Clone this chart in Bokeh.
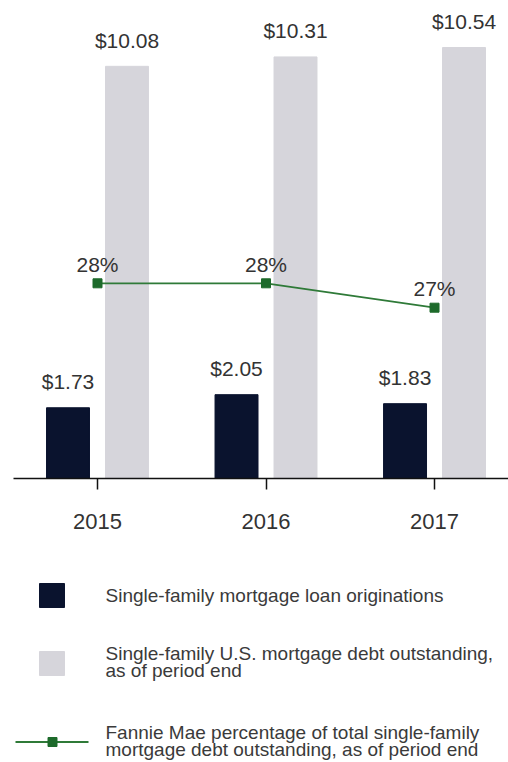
import numpy as np
from bokeh.plotting import figure
from bokeh.models import Range1d, FixedTicker, ColumnDataSource
from bokeh.layouts import column
from bokeh.embed import file_html
from bokeh.resources import INLINE
from bokeh.core.properties import value

# ---- data ----
years = ["2015", "2016", "2017"]
originations = [1.73, 2.05, 1.83]          # $ trillions
debt_outstanding = [10.08, 10.31, 10.54]   # $ trillions
fannie_share = [28, 28, 27]                # percent
legend_labels = [
    "Single-family mortgage loan originations",
    "Single-family U.S. mortgage debt outstanding,\nas of period end",
    "Fannie Mae percentage of total single-family\nmortgage debt outstanding, as of period end",
]

# ---- style ----
FONT = "Liberation Sans"
NAVY = "#0a132e"
GREY = "#d6d5db"
GREEN = "#2f7a38"
MARKER = "#1d6a2b"
TEXT = "#333333"
BORDER_LEFT = 13

xs = np.arange(len(years))
src = ColumnDataSource(dict(
    x=xs,
    x_dark=xs - 0.175,
    x_light=xs + 0.175,
    orig=originations,
    debt=debt_outstanding,
    share=fannie_share,
    orig_lbl=[f"${v:.2f}" for v in originations],
    debt_lbl=[f"${v:.2f}" for v in debt_outstanding],
    share_lbl=[f"{v}%" for v in fannie_share],
))

p = figure(width=508, height=553, output_backend="svg", toolbar_location=None,
           x_range=Range1d(-0.4985, 2.439), y_range=Range1d(0, 11.69),
           y_axis_location=None, min_border_left=BORDER_LEFT, min_border_right=0,
           min_border_top=0, min_border_bottom=75)
p.outline_line_color = None
p.grid.visible = False
p.extra_y_ranges = {"pct": Range1d(20, 39.59)}

p.vbar(x="x_dark", top="orig", width=0.255, bottom=0, color=NAVY, source=src)
p.vbar(x="x_light", top="debt", width=0.255, bottom=0, color=GREY, source=src)
p.line(x="x", y="share", y_range_name="pct", line_color=GREEN, line_width=1.8, source=src)
p.scatter(x="x", y="share", y_range_name="pct", marker="square", size=9,
          color=MARKER, source=src)

common = dict(text_align="center", text_baseline="middle", text_font=value(FONT),
              text_font_size="21px", text_color=TEXT, source=src)
p.text(x="x_dark", y="orig", text="orig_lbl", y_offset=-26, **common)
p.text(x="x_light", y="debt", text="debt_lbl", y_offset=-26, **common)
p.text(x="x", y="share", text="share_lbl", y_offset=-19, y_range_name="pct", **common)

ax = p.xaxis[0]
ax.ticker = FixedTicker(ticks=[int(i) for i in xs])
ax.major_label_overrides = {int(i): y for i, y in zip(xs, years)}
ax.major_label_text_font = FONT
ax.major_label_text_font_size = "22px"
ax.major_label_text_color = TEXT
ax.axis_line_color = "#111111"
ax.axis_line_width = 1.6
ax.major_tick_line_color = "#111111"
ax.major_tick_line_width = 1.5
ax.major_tick_in = 0
ax.major_tick_out = 11
ax.minor_tick_line_color = None
ax.major_label_standoff = 24

# ---- legend panel (its frame is aligned with the chart frame by the column) ----
lg = figure(width=508, height=209, output_backend="svg", toolbar_location=None,
            x_range=Range1d(BORDER_LEFT, 508), y_range=Range1d(762, 553),
            x_axis_location=None, y_axis_location=None,
            min_border=0, min_border_left=BORDER_LEFT, min_border_right=0,
            min_border_top=0, min_border_bottom=0)
lg.outline_line_color = None
lg.grid.visible = False

sw_x = 51.5
lg.rect(x=[sw_x], y=[595], width=25, height=24, color=NAVY)
lg.rect(x=[sw_x], y=[663], width=25, height=24, color=GREY)
lg.line(x=[15, 88], y=[741.5, 741.5], line_color=GREEN, line_width=2)
lg.scatter(x=[52], y=[741.5], marker="square", size=9, color=MARKER)

first_centers = [594.7, 653, 731.5]
step = 17.2
tx, ty, tt = [], [], []
for lab, c in zip(legend_labels, first_centers):
    for k, line in enumerate(lab.split("\n")):
        tx.append(105)
        ty.append(c + k * step)
        tt.append(line)
lg.text(x=tx, y=ty, text=tt, text_align="left", text_baseline="middle",
        text_font=value(FONT), text_font_size="19px", text_color="#3a3a3a")

layout = column(p, lg, spacing=0)
open("out.html", "w").write(file_html(layout, INLINE))
